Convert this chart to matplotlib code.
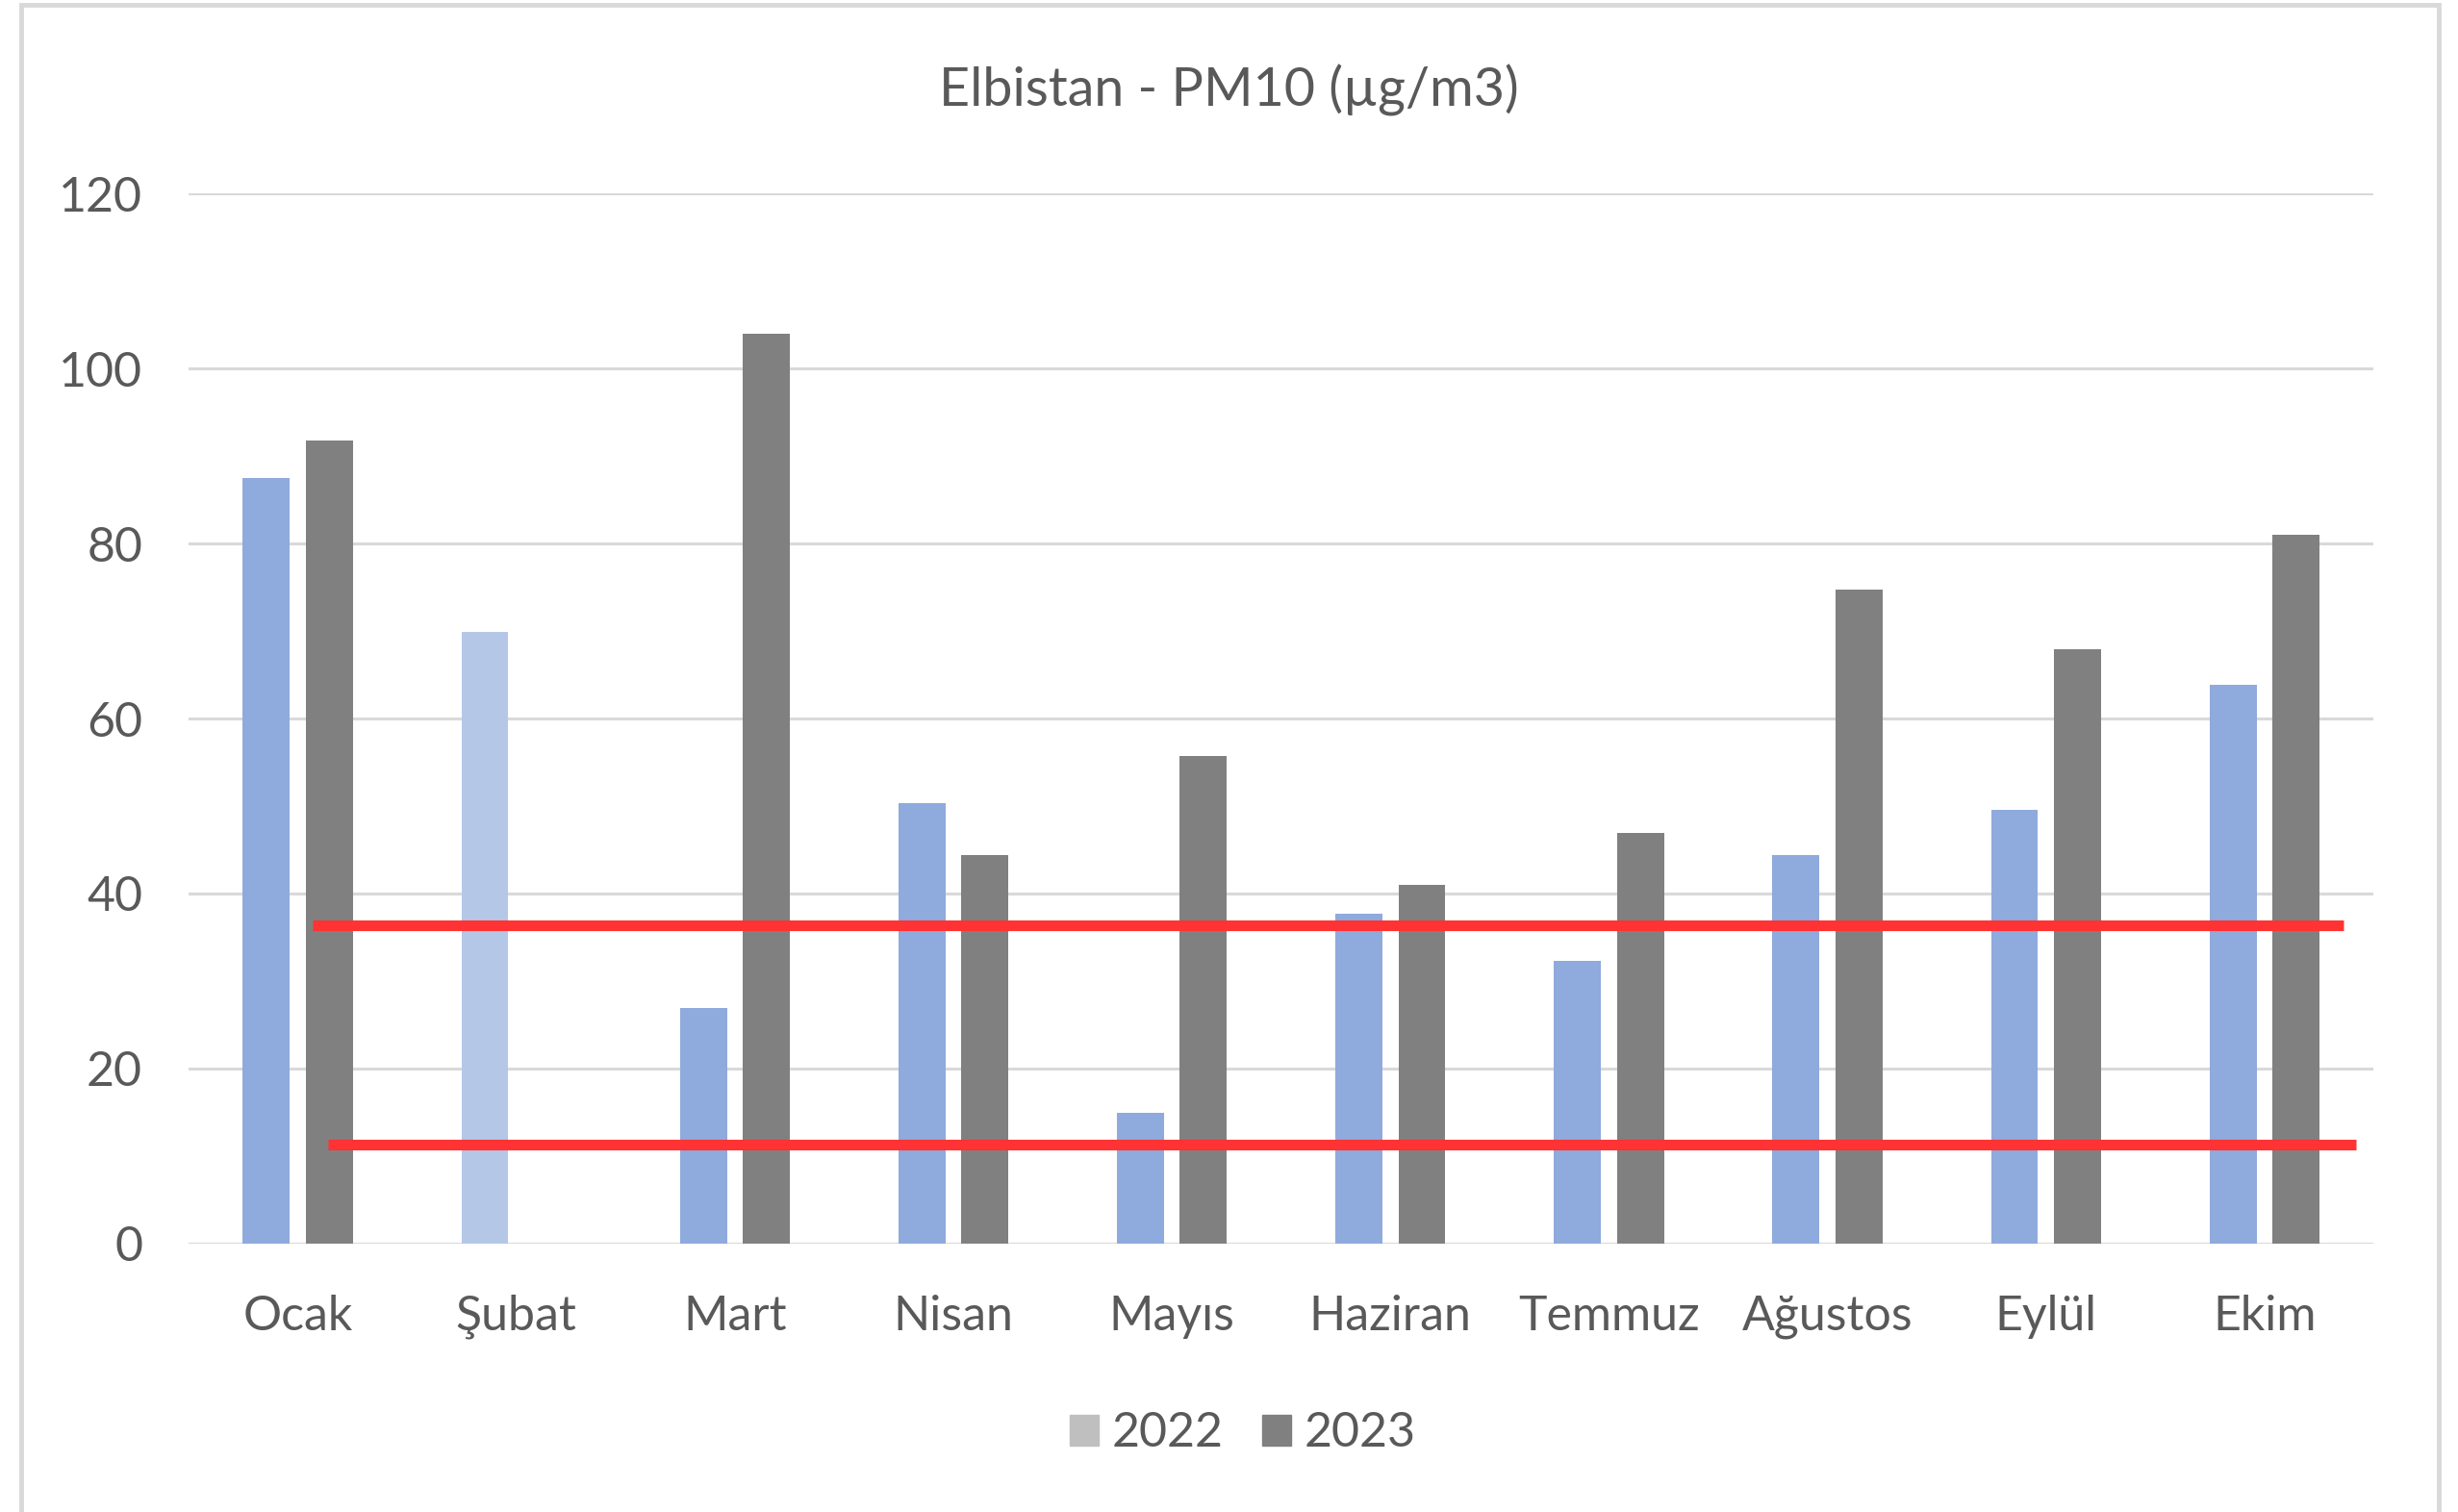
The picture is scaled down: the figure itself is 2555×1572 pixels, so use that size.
import matplotlib.pyplot as plt
from matplotlib.patches import Patch, Rectangle
import numpy as np

plt.rcParams['font.family'] = ['Lato', 'DejaVu Sans']

# data
months = ['Ocak', 'Şubat', 'Mart', 'Nisan', 'Mayıs', 'Haziran', 'Temmuz', 'Ağustos', 'Eylül', 'Ekim']
pm10_2022 = [87.5, 69.9, 26.9, 50.3, 14.9, 37.7, 32.3, 44.4, 49.6, 63.9]
pm10_2023 = [91.8, np.nan, 104.0, 44.4, 55.7, 41.0, 46.9, 74.7, 67.9, 81.0]
# red reference lines drawn on top (x start, x end, y)
ref_lines = [(0.07, 9.36, 36.4), (0.14, 9.42, 11.3)]

c2022 = ['#8faadc'] * len(months)
c2022[1] = '#b4c7e7'   # Şubat point is lighter
c2023 = '#808080'
txt = '#595959'
grid = '#d9d9d9'

fig = plt.figure(figsize=(25.55, 15.72), dpi=100)
ax = fig.add_axes([0.0767, 0.1775, 0.889, 0.6946])

x = np.arange(len(months))
w = 0.215
ax.bar(x - 0.144, pm10_2022, w, color=c2022, zorder=3)
ax.bar(x + 0.144, pm10_2023, w, color=c2023, zorder=3)

for x0, x1, yv in ref_lines:
   ax.plot([x0, x1], [yv, yv], color='#ff3333', linewidth=8, solid_capstyle='butt', zorder=4)

ax.set_xlim(-0.5, len(months) - 0.5)
ax.set_ylim(0, 120)
ax.set_yticks(range(0, 121, 20))
ax.set_xticks(x)
ax.set_xticklabels(months)
ax.yaxis.grid(True, color=grid, linewidth=2.2, zorder=0)
ax.set_axisbelow(True)
for s in ax.spines.values():
   s.set_visible(False)
ax.tick_params(axis='both', length=0, labelsize=36, colors=txt)
ax.tick_params(axis='y', pad=34.5)
ax.tick_params(axis='x', pad=38)

fig.text(0.5, 0.94, 'Elbistan - PM10 (µg/m3)', ha='center', va='center', fontsize=40, color=txt)

handles = [Patch(color='#bfbfbf', label='2022'), Patch(color='#808080', label='2023')]
fig.legend(handles=handles, loc='center', bbox_to_anchor=(0.5055, 0.052), ncol=2, frameon=False,
           fontsize=36, labelcolor=txt, handlelength=0.6, handleheight=0.6, handletextpad=0.28, columnspacing=0.8)

# chart area border
fig.patches.append(Rectangle((22 / 2555, -0.01), 2513 / 2555, 1.01 - 4.5 / 1572, transform=fig.transFigure,
                             fill=False, edgecolor=grid, linewidth=3.5))

fig.savefig('out.png', dpi=100)
